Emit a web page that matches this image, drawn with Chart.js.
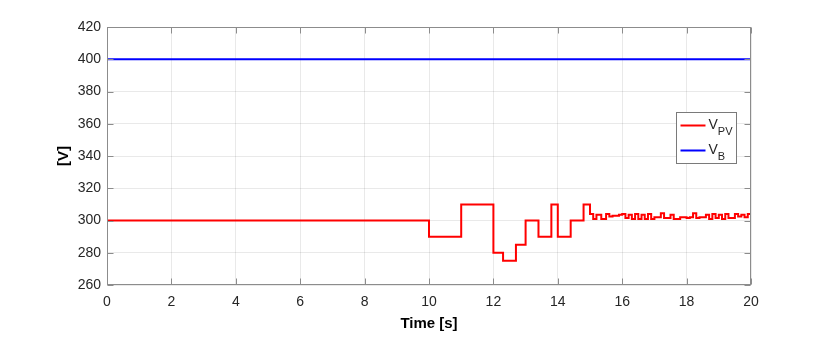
<!DOCTYPE html>
<html>
<head>
<meta charset="utf-8">
<script src="https://cdn.jsdelivr.net/npm/chart.js@4.4.0/dist/chart.umd.min.js"></script>
<style>
  html, body { margin: 0; padding: 0; background: #ffffff; }
  #wrap { width: 830px; height: 354px; }
</style>
</head>
<body>
<div id="wrap"><canvas id="c" width="830" height="354"></canvas></div>
<script>
// ---- data ----
const seriesLabels = ['V_PV', 'V_B'];
const xTicks = [0, 2, 4, 6, 8, 10, 12, 14, 16, 18, 20];
const yTicks = [260, 280, 300, 320, 340, 360, 380, 400, 420];

// step start times (s) and the value held from that time on
const pvTime = [0, 10, 11, 12, 12.3, 12.7, 13, 13.4, 13.8, 14, 14.4, 14.8, 15, 15.1, 15.2, 15.35, 15.5, 15.6, 15.7, 15.9, 16, 16.1, 16.2, 16.3, 16.4, 16.5, 16.6, 16.7, 16.8, 16.9, 17, 17.2, 17.3, 17.5, 17.6, 17.8, 18, 18.1, 18.2, 18.3, 18.4, 18.6, 18.7, 18.8, 18.9, 19, 19.1, 19.2, 19.3, 19.5, 19.6, 19.7, 19.8, 19.9, 20];
const pvVolt = [300, 290, 310, 280, 275, 285, 300, 290, 310, 290, 300, 310, 304, 301, 303.5, 301, 304, 302.5, 303, 303.5, 304, 301.5, 303.5, 301, 304, 301, 303.5, 301, 304, 301, 302, 304.5, 301.5, 303.5, 301, 302, 301.5, 302, 304.5, 301.5, 302, 303.5, 301, 304, 301.5, 303.5, 301, 304, 301.5, 304, 302.5, 303.5, 302, 304, 303];
const bTime = [0, 20];
const bVolt = [400, 400];

const FONT = '"Liberation Sans", Arial, Helvetica, sans-serif';
const AXIS_COLOR = '#8c8c8c';
const TEXT_COLOR = '#262626';

function pts(t, v) { return t.map((x, i) => ({ x: x, y: v[i] })); }

// frame, inward ticks and legend
const decor = {
  id: 'decor',
  afterDatasetsDraw(chart) {
    const ctx = chart.ctx;
    const a = chart.chartArea;
    const xs = chart.scales.x, ys = chart.scales.y;
    ctx.save();
    ctx.strokeStyle = AXIS_COLOR;
    ctx.lineWidth = 1;
    const L = Math.round(a.left) + 0.5, R = Math.round(a.right) - 0.5;
    const T = Math.round(a.top) + 0.5, B = Math.round(a.bottom) - 0.5;
    ctx.strokeRect(L, T, R - L, B - T);
    const tl = 6;
    ctx.beginPath();
    xs.ticks.forEach(tk => {
      const px = Math.round(xs.getPixelForValue(tk.value)) + 0.5;
      ctx.moveTo(px, B); ctx.lineTo(px, B - tl);
      ctx.moveTo(px, T); ctx.lineTo(px, T + tl);
    });
    ys.ticks.forEach(tk => {
      const py = Math.round(ys.getPixelForValue(tk.value)) + 0.5;
      ctx.moveTo(L, py); ctx.lineTo(L + tl, py);
      ctx.moveTo(R, py); ctx.lineTo(R - tl, py);
    });
    ctx.stroke();

    // legend box (MATLAB style, inside the axes)
    const bx = 676.5, by = 112.5, bw = 60, bh = 51;
    ctx.fillStyle = '#ffffff';
    ctx.fillRect(bx, by, bw, bh);
    ctx.strokeStyle = '#7a7a7a';
    ctx.strokeRect(bx, by, bw, bh);
    chart.data.datasets.forEach((ds, i) => {
      const y = by + 13 + i * 25;
      ctx.strokeStyle = ds.borderColor;
      ctx.lineWidth = 2;
      ctx.beginPath();
      ctx.moveTo(bx + 4, y); ctx.lineTo(bx + 29, y);
      ctx.stroke();
      const parts = ds.label.split('_');
      ctx.fillStyle = TEXT_COLOR;
      ctx.textBaseline = 'alphabetic';
      ctx.textAlign = 'left';
      ctx.font = '14px ' + FONT;
      ctx.fillText(parts[0], bx + 32, y + 3);
      const w = ctx.measureText(parts[0]).width;
      if (parts[1]) {
        ctx.font = '11px ' + FONT;
        ctx.fillText(parts[1], bx + 32 + w, y + 9);
      }
    });
    ctx.restore();
  }
};

new Chart(document.getElementById('c'), {
  type: 'line',
  data: {
    datasets: [
      { label: seriesLabels[0], data: pts(pvTime, pvVolt), borderColor: '#ff0000', borderWidth: 2, pointRadius: 0, stepped: 'before', fill: false, tension: 0 },
      { label: seriesLabels[1], data: pts(bTime, bVolt), borderColor: '#0000ff', borderWidth: 2, pointRadius: 0, fill: false, tension: 0 }
    ]
  },
  options: {
    responsive: false,
    devicePixelRatio: 1,
    animation: false,
    layout: { padding: { left: 0, right: 79, top: 27, bottom: 0 } },
    plugins: { legend: { display: false }, tooltip: { enabled: false } },
    scales: {
      x: {
        type: 'linear', min: 0, max: 20,
        afterBuildTicks: s => { s.ticks = xTicks.map(v => ({ value: v })); },
        afterFit: s => { s.height = 69; },
        grid: { color: 'rgba(38,38,38,0.1)', drawTicks: false, lineWidth: 1 },
        border: { display: false },
        ticks: { color: TEXT_COLOR, font: { family: FONT, size: 14 }, padding: 9, maxRotation: 0 },
        title: { display: true, text: 'Time [s]', color: '#000000', font: { family: FONT, size: 15, weight: 'bold' }, padding: { top: 0, bottom: 21 } }
      },
      y: {
        type: 'linear', min: 260, max: 420,
        afterBuildTicks: s => { s.ticks = yTicks.map(v => ({ value: v })); },
        afterFit: s => { s.width = 107; },
        grid: { color: 'rgba(38,38,38,0.1)', drawTicks: false, lineWidth: 1 },
        border: { display: false },
        ticks: { color: TEXT_COLOR, font: { family: FONT, size: 14 }, padding: 6 },
        title: { display: true, text: '[V]', color: '#000000', font: { family: FONT, size: 15, weight: 'bold' }, padding: { top: 55, bottom: 0 } }
      }
    }
  },
  plugins: [decor]
});
</script>
</body>
</html>
